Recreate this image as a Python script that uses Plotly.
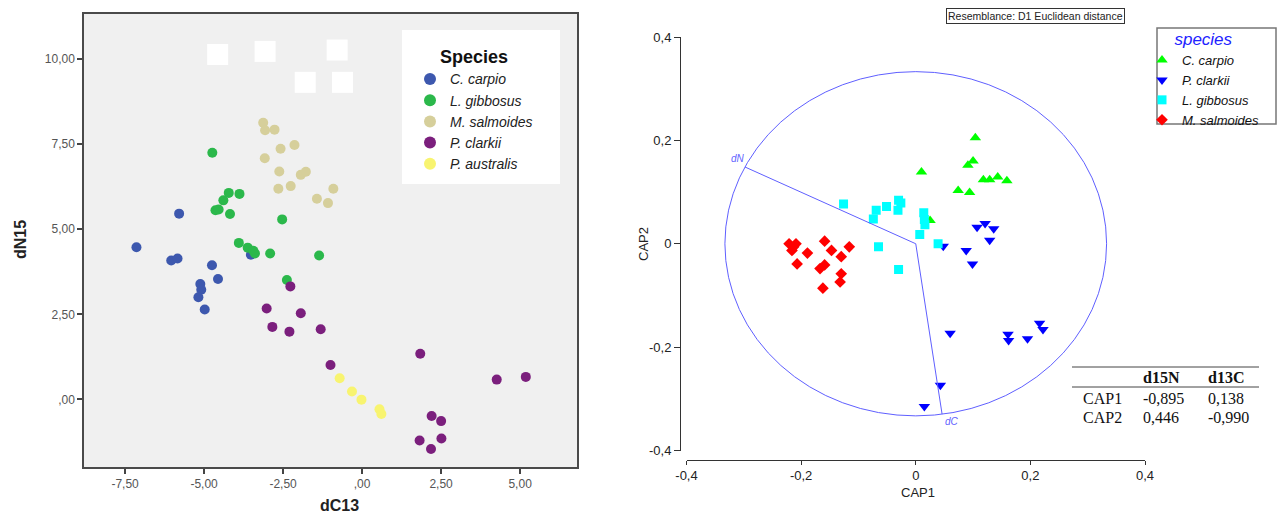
import numpy as np
import plotly.graph_objects as go

W, H = 1282, 514

# ---------------- Left panel: dC13 vs dN15 ----------------
left_species = ["C. carpio", "L. gibbosus", "M. salmoides", "P. clarkii", "P. australis"]
left_colors = ["#3d58ae", "#2bb84b", "#d6cf9b", "#7b1f7d", "#f8f470"]

carpio_dC = [-7.14, -5.79, -6.04, -5.84, -4.75, -4.56, -5.12, -5.09, -5.18, -4.98, -3.52]
carpio_dN = [4.47, 5.46, 4.08, 4.14, 3.94, 3.54, 3.39, 3.22, 3.00, 2.64, 4.25]
gibbosus_dC = [-4.74, -4.22, -3.88, -4.39, -4.64, -4.54, -4.18, -2.53, -3.90, -3.62, -3.44, -3.39, -2.91, -1.36, -2.38]
gibbosus_dN = [7.25, 6.07, 6.04, 5.85, 5.56, 5.58, 5.45, 5.29, 4.60, 4.46, 4.37, 4.29, 4.29, 4.23, 3.51]
salmoides_dC = [-3.13, -3.07, -2.77, -2.58, -2.14, -3.08, -2.62, -1.94, -1.78, -2.65, -2.26, -1.43, -1.08, -0.91]
salmoides_dN = [8.13, 7.91, 7.93, 7.37, 7.48, 7.09, 6.70, 6.60, 6.69, 6.19, 6.27, 5.90, 5.77, 6.19]
clarkii_dC = [-2.27, -3.02, -1.94, -2.84, -2.30, -1.31, -1.00, 1.84, 4.26, 5.18, 2.20, 2.50, 2.51, 1.82, 2.18]
clarkii_dN = [3.32, 2.67, 2.53, 2.13, 1.99, 2.06, 1.01, 1.34, 0.58, 0.66, -0.49, -0.64, -1.15, -1.21, -1.46]
australis_dC = [-0.71, -0.32, -0.02, 0.55, 0.61]
australis_dN = [0.62, 0.23, -0.01, -0.29, -0.43]

# white patches visible in the upper part of the left panel
patch_dC = [-4.57, -3.07, -0.79, -1.80, -0.62]
patch_dN = [10.14, 10.23, 10.27, 9.32, 9.32]

left_xtick_vals = [-7.5, -5.0, -2.5, 0.0, 2.5, 5.0]
left_xtick_text = ["-7,50", "-5,00", "-2,50", ",00", "2,50", "5,00"]
left_ytick_vals = [0.0, 2.5, 5.0, 7.5, 10.0]
left_ytick_text = [",00", "2,50", "5,00", "7,50", "10,00"]

# ---------------- Right panel: CAP ordination ----------------
right_species = ["C. carpio", "P. clarkii", "L. gibbosus", "M. salmoides"]
right_colors = ["#00ff00", "#0000ff", "#00ffff", "#ff0000"]
right_symbols = ["triangle-up", "triangle-down", "square", "diamond"]

carpio_cap1 = [0.104, 0.010, 0.100, 0.091, 0.118, 0.129, 0.143, 0.159, 0.074, 0.094, 0.025]
carpio_cap2 = [0.205, 0.139, 0.160, 0.152, 0.124, 0.124, 0.129, 0.122, 0.103, 0.099, 0.045]
clarkii_cap1 = [0.107, 0.121, 0.136, 0.129, 0.048, 0.088, 0.099, 0.060, 0.161, 0.162, 0.195, 0.216, 0.222, 0.043, 0.015]
clarkii_cap2 = [0.032, 0.039, 0.029, 0.007, -0.005, -0.013, -0.039, -0.173, -0.175, -0.187, -0.184, -0.154, -0.166, -0.274, -0.315]
gibbosus_cap1 = [-0.126, -0.069, -0.051, -0.074, -0.030, -0.031, -0.026, 0.014, 0.015, 0.016, 0.007, 0.039, -0.065, -0.030]
gibbosus_cap2 = [0.077, 0.065, 0.072, 0.048, 0.084, 0.065, 0.079, 0.060, 0.047, 0.037, 0.018, 0.000, -0.006, -0.050]
salmoides_cap1 = [-0.221, -0.209, -0.216, -0.213, -0.189, -0.207, -0.159, -0.147, -0.130, -0.116, -0.159, -0.167, -0.130, -0.132, -0.162]
salmoides_cap2 = [0.000, 0.000, -0.013, -0.006, -0.018, -0.039, 0.005, -0.013, -0.025, -0.006, -0.041, -0.048, -0.058, -0.074, -0.086]

# correlation table (vectors dN / dC are drawn from these)
table_rows = ["CAP1", "CAP2"]
table_cols = ["d15N", "d13C"]
table_vals = [[-0.895, 0.138], [0.446, -0.990]]
vector_labels = ["dN", "dC"]
circle_radius = 0.333

right_tick_vals = [-0.4, -0.2, 0.0, 0.2, 0.4]
right_tick_text = ["-0,4", "-0,2", "0", "0,2", "0,4"]


def px(x):
    return x / W


def py(y):
    return 1 - y / H


FONT = "Liberation Sans, Arial, sans-serif"
SERIF = "Liberation Serif, Times New Roman, serif"
VEC_COLOR = "#5f5fff"

fig = go.Figure()

# left panel traces
left_x = [carpio_dC, gibbosus_dC, salmoides_dC, clarkii_dC, australis_dC]
left_y = [carpio_dN, gibbosus_dN, salmoides_dN, clarkii_dN, australis_dN]
for name, col, xs, ys in zip(left_species, left_colors, left_x, left_y):
    fig.add_trace(go.Scatter(
        x=xs, y=ys, mode="markers", name=name, xaxis="x", yaxis="y", legend="legend",
        marker=dict(color=col, size=10, line=dict(width=0)),
    ))
fig.add_trace(go.Scatter(
    x=patch_dC, y=patch_dN, mode="markers", xaxis="x", yaxis="y", showlegend=False,
    hoverinfo="skip", marker=dict(symbol="square", color="white", size=21, line=dict(width=0)),
))

# right panel traces
right_x = [carpio_cap1, clarkii_cap1, gibbosus_cap1, salmoides_cap1]
right_y = [carpio_cap2, clarkii_cap2, gibbosus_cap2, salmoides_cap2]
right_sizes = [10, 10, 9, 9]
for name, col, sym, sz, xs, ys in zip(right_species, right_colors, right_symbols, right_sizes, right_x, right_y):
    fig.add_trace(go.Scatter(
        x=xs, y=ys, mode="markers", name=name, xaxis="x2", yaxis="y2", legend="legend2",
        marker=dict(color=col, symbol=sym, size=sz, line=dict(width=0)),
    ))

# vectors dN and dC (scaled by circle radius)
vec_x = [table_vals[0][0] * circle_radius, 0, table_vals[0][1] * circle_radius]
vec_y = [table_vals[1][0] * circle_radius, 0, table_vals[1][1] * circle_radius]
fig.add_trace(go.Scatter(
    x=vec_x, y=vec_y, mode="lines", xaxis="x2", yaxis="y2", showlegend=False,
    hoverinfo="skip", line=dict(color=VEC_COLOR, width=1),
))

shapes = [
    # grey plot background of left panel
    dict(type="rect", xref="x domain", yref="y domain", x0=0, x1=1, y0=0, y1=1,
         fillcolor="#f0f0f0", line=dict(width=0), layer="below"),
    # left legend box
    dict(type="rect", xref="paper", yref="paper", x0=px(402), x1=px(560), y0=py(184), y1=py(30),
         fillcolor="white", line=dict(width=0), layer="above"),
    # right legend box
    dict(type="rect", xref="paper", yref="paper", x0=px(1157), x1=px(1276), y0=py(124), y1=py(28),
         fillcolor="white", line=dict(color="#777777", width=1.5), layer="above"),
    # correlation circle
    dict(type="circle", xref="x2", yref="y2", x0=-circle_radius, x1=circle_radius,
         y0=-circle_radius, y1=circle_radius, line=dict(color=VEC_COLOR, width=1)),
    # table rules
    dict(type="line", xref="paper", yref="paper", x0=px(1072), x1=px(1259), y0=py(367), y1=py(367),
         line=dict(color="#444", width=1)),
    dict(type="line", xref="paper", yref="paper", x0=px(1072), x1=px(1259), y0=py(387), y1=py(387),
         line=dict(color="#444", width=1)),
]


def ann(text, x, y, size, color="#222", family=FONT, angle=0, xanchor="center", **kw):
    d = dict(text=text, x=px(x), y=py(y), xref="paper", yref="paper", showarrow=False,
             xanchor=xanchor, yanchor="middle", textangle=angle,
             font=dict(family=family, size=size, color=color))
    d.update(kw)
    return d


annotations = [
    ann("<b>dN15</b>", 20, 240, 16, angle=-90),
    ann("<b>dC13</b>", 339, 505, 16),
    ann("CAP1", 918, 492, 13),
    ann("CAP2", 643, 244, 13, angle=-90),
    ann("Resemblance: D1 Euclidean distance", 1035, 16, 10.5,
        bordercolor="#333", borderwidth=1, borderpad=1, bgcolor="white"),
    dict(text="<i>" + vector_labels[0] + "</i>", x=vec_x[0], y=vec_y[0], xref="x2", yref="y2",
         xanchor="center", yanchor="middle",
         showarrow=False, xshift=-7, yshift=8, font=dict(family=FONT, size=10, color=VEC_COLOR)),
    dict(text="<i>" + vector_labels[1] + "</i>", x=vec_x[2], y=vec_y[2], xref="x2", yref="y2",
         xanchor="center", yanchor="middle",
         showarrow=False, xshift=10, yshift=-7, font=dict(family=FONT, size=10, color=VEC_COLOR)),
]

# table text
col_x = [1141, 1206]
row_y = [398, 417]
for j, c in enumerate(table_cols):
    annotations.append(ann("<b>" + c + "</b>", col_x[j], 377, 16, color="#111", family=SERIF, xanchor="left"))
for i, r in enumerate(table_rows):
    annotations.append(ann(r, 1081, row_y[i], 16, color="#111", family=SERIF, xanchor="left"))
    for j in range(len(table_cols)):
        txt = f"{table_vals[i][j]:.3f}".replace(".", ",")
        annotations.append(ann(txt, col_x[j], row_y[i], 16, color="#111", family=SERIF, xanchor="left"))

fig.update_layout(
    width=W, height=H, margin=dict(l=0, r=0, t=0, b=0, autoexpand=False),
    paper_bgcolor="white", plot_bgcolor="white",
    font=dict(family=FONT, color="#222"),
    hovermode=False,
    xaxis=dict(domain=[px(84), px(577)], range=[-8.8, 6.8], anchor="y",
               showline=True, mirror=True, linecolor="#4a4a4a", linewidth=1.5,
               ticks="outside", ticklen=5, tickcolor="#444", tickwidth=1.5,
               tickvals=left_xtick_vals, ticktext=left_xtick_text,
               tickfont=dict(size=12, color="#555"), showgrid=False, zeroline=False),
    yaxis=dict(domain=[py(467), py(14)], range=[-1.99, 11.33], anchor="x",
               showline=True, mirror=True, linecolor="#4a4a4a", linewidth=1.5,
               ticks="outside", ticklen=5, tickcolor="#444", tickwidth=1.5,
               tickvals=left_ytick_vals, ticktext=left_ytick_text,
               tickfont=dict(size=12, color="#555"), showgrid=False, zeroline=False),
    xaxis2=dict(domain=[px(686.5), px(1145)], range=[-0.4, 0.4], anchor="free", position=py(459.5),
                showline=True, linecolor="#333", linewidth=1,
                ticks="outside", ticklen=4, tickcolor="#333",
                tickvals=right_tick_vals, ticktext=right_tick_text,
                tickfont=dict(size=13, color="#222"), showgrid=False, zeroline=False),
    yaxis2=dict(domain=[py(450.5), py(37)], range=[-0.4, 0.4], anchor="free", position=px(680),
                showline=True, linecolor="#333", linewidth=1,
                ticks="outside", ticklen=6, tickcolor="#333",
                tickvals=right_tick_vals, ticktext=right_tick_text,
                tickfont=dict(size=13, color="#222"), showgrid=False, zeroline=False),
    legend=dict(x=px(410), y=py(40), xanchor="left", yanchor="top", bgcolor="rgba(0,0,0,0)",
                itemsizing="constant",
                font=dict(family=FONT, size=14, color="#222", style="italic"),
                title=dict(text="<b>Species</b>", side="top center",
                           font=dict(family=FONT, size=18, color="#111", style="normal")),
                itemclick=False, itemdoubleclick=False),
    legend2=dict(x=px(1142), y=py(23), xanchor="left", yanchor="top", bgcolor="rgba(0,0,0,0)",
                 font=dict(family=FONT, size=13, color="#111", style="italic"),
                 title=dict(text="species", side="top center",
                            font=dict(family=FONT, size=17, color="#2222ff", style="italic")),
                 itemclick=False, itemdoubleclick=False),
    shapes=shapes,
    annotations=annotations,
)

fig.write_html("out.html")
